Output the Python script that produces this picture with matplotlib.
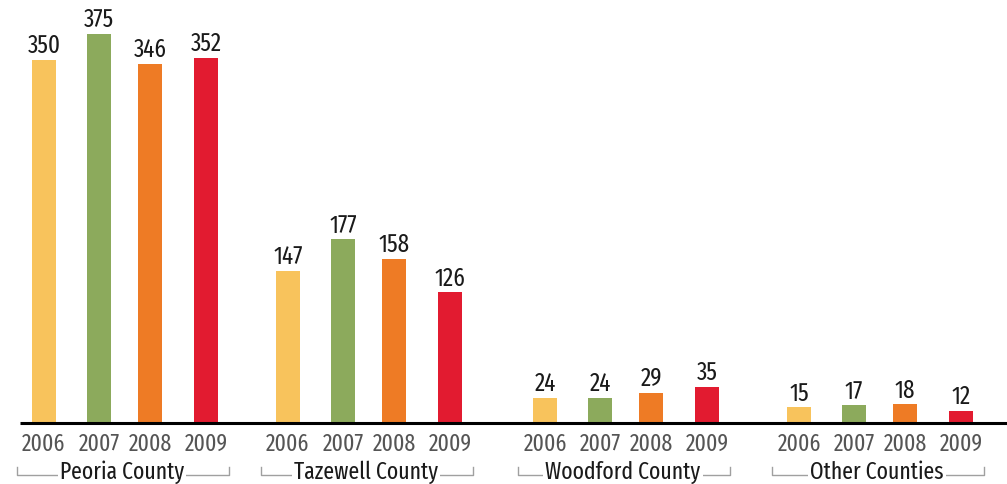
import matplotlib
matplotlib.use("Agg")
import matplotlib.pyplot as plt

groups = ["Peoria County", "Tazewell County", "Woodford County", "Other Counties"]
years = ["2006", "2007", "2008", "2009"]
v2006 = [350, 147, 24, 15]
v2007 = [375, 177, 24, 17]
v2008 = [346, 158, 29, 18]
v2009 = [352, 126, 35, 12]
series = [v2006, v2007, v2008, v2009]
colors = ["#F8C35C", "#8CAA5C", "#EE7B25", "#E21B30"]

plt.rcParams["font.family"] = ["Fira Sans Extra Condensed", "DejaVu Sans"]

W, H = 1007, 485
fig = plt.figure(figsize=(W / 100, H / 100), dpi=100)
ax = fig.add_axes([0, 0, 1, 1])
pxu = 1.037  # pixels per data unit
base = 424
ax.set_xlim(0, W)
ax.set_ylim(-(H - base) / pxu, base / pxu)
ax.axis("off")

gcenters = [125, 369, 626, 880]
offsets = [-81, -26, 25, 81]
bw = 24

for gi, g in enumerate(groups):
    gc = gcenters[gi]
    for si, vals in enumerate(series):
        x = gc + offsets[si]
        v = vals[gi]
        ax.bar(x, v, width=bw, color=colors[si], edgecolor="none", zorder=2)
        ax.text(x, v + 2.5, str(v), ha="center", va="bottom", fontsize=18,
                color="#1a1a1a")
        ax.text(x, -20 / pxu, years[si], ha="center", va="center",
                fontsize=17, color="#555555")
    left, right = gc - 108, gc + 104
    yb = -(476 - base) / pxu
    yt = -(468 - base) / pxu
    ax.plot([left, left, right, right], [yt, yb, yb, yt], color="#a0a0a0",
            lw=1, zorder=1)
    ax.text(gc - 3, -(472 - base) / pxu, g, ha="center", va="center",
            fontsize=17, color="#1a1a1a", zorder=3,
            bbox=dict(boxstyle="square,pad=0.1", fc="white", ec="none"))

ax.plot([20, W], [0, 0], color="black", lw=2.2, zorder=3,
        solid_capstyle="butt")

fig.savefig("out.png", dpi=100, facecolor="white")
